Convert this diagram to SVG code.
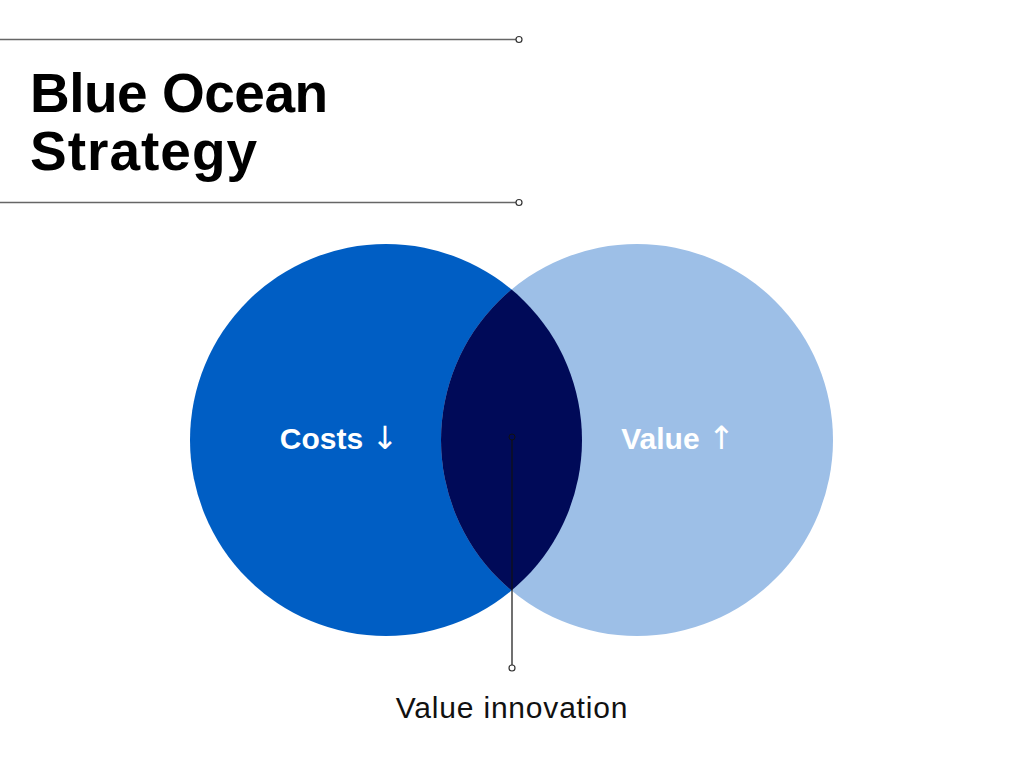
<svg xmlns="http://www.w3.org/2000/svg" width="1024" height="768" viewBox="0 0 1024 768">
<defs>
<style>
.rule{stroke:#666;stroke-width:1.5;fill:none}
.dot{fill:#fff;stroke:#333;stroke-width:1.2}
.title{font-family:"Liberation Sans",Arial,sans-serif;font-weight:bold;font-size:55px;fill:#000}
.lbl{font-family:"Liberation Sans",Arial,sans-serif;font-weight:bold;font-size:30px;fill:#fff}
.arr{font-family:"DejaVu Sans",sans-serif;font-weight:normal;font-size:32px}
.cap{font-family:"Liberation Sans",Arial,sans-serif;font-size:30px;letter-spacing:0.8px;fill:#111}
</style>
<clipPath id="clipL"><circle cx="386" cy="440" r="196"/></clipPath>
</defs>
<rect width="1024" height="768" fill="#fff"/>
<g id="title">
<line class="rule" x1="0" y1="39.5" x2="516" y2="39.5"/>
<circle class="dot" cx="519" cy="39.5" r="3"/>
<line class="rule" x1="0" y1="202.5" x2="516" y2="202.5"/>
<circle class="dot" cx="519" cy="202.5" r="3"/>
<text class="title" x="30" y="112" letter-spacing="-0.5">Blue Ocean</text>
<text class="title" x="30" y="170" letter-spacing="1">Strategy</text>
</g>
<g id="costs">
<circle cx="386" cy="440" r="196" fill="#005EC4"/>
<text class="lbl" x="339" y="449" text-anchor="middle">Costs <tspan class="arr">↓</tspan></text>
</g>
<g id="value">
<circle cx="637" cy="440" r="196" fill="#9DBFE7"/>
<text class="lbl" x="678" y="449" text-anchor="middle">Value <tspan class="arr">↑</tspan></text>
</g>
<g id="innovation">
<circle cx="637" cy="440" r="196" fill="#000A58" clip-path="url(#clipL)"/>
<text class="cap" x="512" y="718" text-anchor="middle">Value innovation</text>
</g>
<g id="connectors">
<line x1="512" y1="440" x2="512" y2="665" stroke="#111" stroke-width="1.2"/>
<circle cx="512" cy="437" r="3" fill="none" stroke="#111" stroke-width="1"/>
<circle class="dot" cx="512" cy="668" r="3"/>
</g>
</svg>
